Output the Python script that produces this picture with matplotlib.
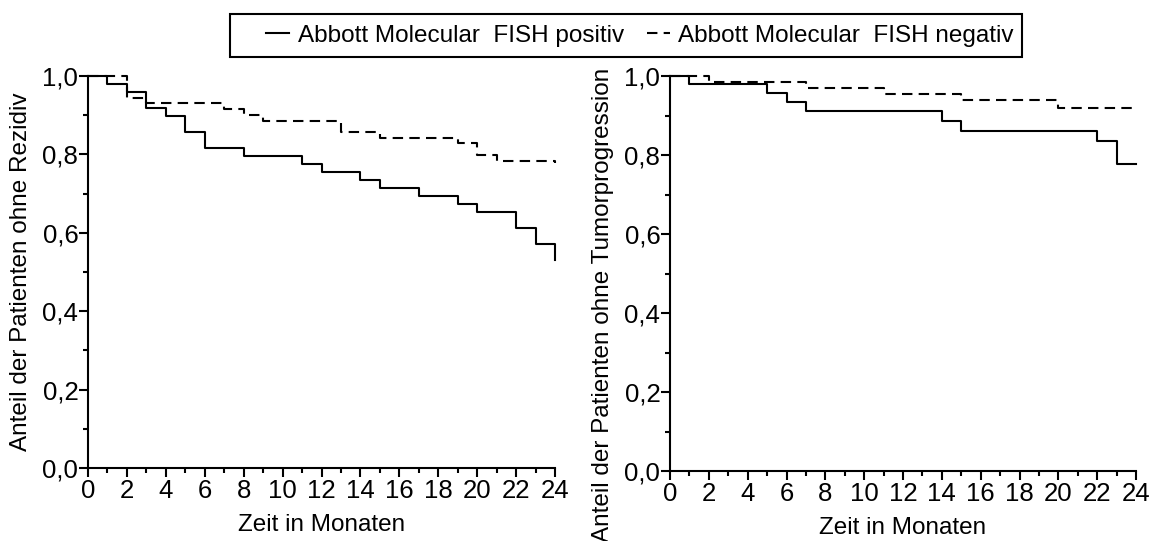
from matplotlib import pyplot as plt
from matplotlib.lines import Line2D
from matplotlib.patches import Rectangle
import numpy as np

plt.rcParams['font.family'] = ['Liberation Sans', 'DejaVu Sans']

# Rezidiv (left panel)
rez_pos_t = [0, 1, 2, 3, 4, 5, 6, 8, 11, 12, 14, 15, 17, 19, 20, 22, 23, 24]
rez_pos_s = [1.0, 0.98, 0.959, 0.918, 0.898, 0.857, 0.816, 0.796, 0.776, 0.755,
             0.735, 0.714, 0.694, 0.673, 0.653, 0.612, 0.571, 0.53]
rez_neg_t = [0, 2, 3, 7, 8, 9, 13, 15, 19, 20, 21, 24]
rez_neg_s = [1.0, 0.945, 0.93, 0.916, 0.901, 0.886, 0.858, 0.843, 0.828, 0.798, 0.783, 0.777]

# Tumorprogression (right panel)
tp_pos_t = [0, 1, 5, 6, 7, 14, 15, 22, 23, 24]
tp_pos_s = [1.0, 0.979, 0.957, 0.934, 0.912, 0.886, 0.862, 0.835, 0.776, 0.776]
tp_neg_t = [0, 2, 7, 11, 15, 20, 24]
tp_neg_s = [1.0, 0.985, 0.97, 0.955, 0.939, 0.92, 0.92]

x_ticks = list(range(0, 25, 2))
y_ticks = [0.0, 0.2, 0.4, 0.6, 0.8, 1.0]
y_ticklabels = ['0,0', '0,2', '0,4', '0,6', '0,8', '1,0']

label_pos = 'Abbott Molecular  FISH positiv'
label_neg = 'Abbott Molecular  FISH negativ'
xlabel = 'Zeit in Monaten'
ylabel_left = 'Anteil der Patienten ohne Rezidiv'
ylabel_right = 'Anteil der Patienten ohne Tumorprogression'

FS = 17.5
TICK_FS = 18.5
W, H = 1158, 541
fig = plt.figure(figsize=(W / 100, H / 100), dpi=100)


def px_axes(x0, x1, y_top, y_bot):
    return fig.add_axes([x0 / W, 1 - y_bot / H, (x1 - x0) / W, (y_bot - y_top) / H])


def style(ax):
    ax.set_xlim(0, 24)
    ax.set_ylim(0, 1)
    for s in ['top', 'right']:
        ax.spines[s].set_visible(False)
    for s in ['left', 'bottom']:
        ax.spines[s].set_linewidth(1.5)
    ax.set_xticks(x_ticks)
    ax.set_xticks(np.arange(1, 24, 2), minor=True)
    ax.set_yticks(y_ticks)
    ax.set_yticklabels(y_ticklabels)
    ax.set_yticks([0.1, 0.3, 0.5, 0.7, 0.9], minor=True)
    ax.tick_params(which='major', direction='out', length=6.5, width=1.5, labelsize=TICK_FS)
    ax.tick_params(which='minor', direction='out', length=3.5, width=1.5)
    ax.tick_params(axis='x', which='major', pad=1.5)
    ax.tick_params(axis='y', which='major', pad=0.5)
    ax.set_xlabel(xlabel, fontsize=FS, labelpad=8)


def km(ax, t, s, dashed=False):
    kw = dict(color='black', lw=1.5, clip_on=False)
    if dashed:
        kw['dashes'] = (5, 3)
    ax.step(t, s, where='post', **kw)


ax1 = px_axes(88, 555, 76, 468)
style(ax1)
km(ax1, rez_pos_t, rez_pos_s)
km(ax1, rez_neg_t, rez_neg_s, dashed=True)

ax2 = px_axes(670, 1136, 76, 471)
style(ax2)
km(ax2, tp_pos_t, tp_pos_s)
km(ax2, tp_neg_t, tp_neg_s, dashed=True)

fig.text(21 / W, 1 - 272 / H, ylabel_left, rotation=90, ha='center', va='center', fontsize=FS)
fig.text(603 / W, 1 - 305 / H, ylabel_right, rotation=90, ha='center', va='center', fontsize=FS)

# legend box drawn separately (entries sit off-centre in the original)
fig.patches.append(Rectangle((230 / W, 1 - 57 / H), 792 / W, 43 / H, transform=fig.transFigure,
                             fill=False, edgecolor='black', lw=1.5))
handles = [Line2D([], [], color='black', lw=1.5),
           Line2D([], [], color='black', lw=1.5, dashes=(5, 3))]
leg = fig.legend(handles, [label_pos, label_neg], loc='center left',
                 bbox_to_anchor=(266 / W, 1 - 35.5 / H), ncol=2, fontsize=FS,
                 frameon=False, borderpad=0, borderaxespad=0,
                 handlelength=0.95, handletextpad=0.35, columnspacing=0.95)

fig.savefig('out.png', dpi=100)
